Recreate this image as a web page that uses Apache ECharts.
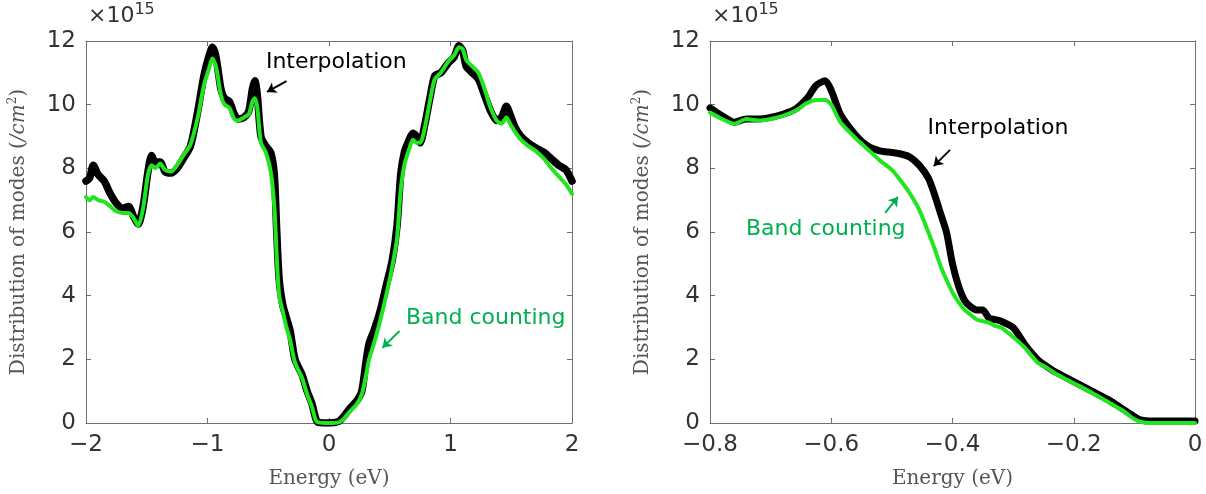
<!DOCTYPE html>
<html>
<head>
<meta charset="utf-8">
<script src="https://cdn.jsdelivr.net/npm/echarts@6/dist/echarts.min.js"></script>
<style>
  html, body { margin: 0; padding: 0; background: #fff; }
  #chart { width: 1206px; height: 494px; }
</style>
</head>
<body>
<div id="chart"></div>
<script>
// left panel: wide energy window
var leftEnergy = [-2.00,-1.97,-1.94,-1.90,-1.85,-1.80,-1.75,-1.70,-1.65,-1.61,-1.57,-1.53,-1.49,-1.46,-1.43,-1.39,-1.35,-1.30,-1.25,-1.20,-1.14,-1.08,-1.03,-0.99,-0.96,-0.93,-0.89,-0.86,-0.82,-0.78,-0.75,-0.70,-0.66,-0.63,-0.61,-0.59,-0.56,-0.52,-0.48,-0.45,-0.43,-0.41,-0.38,-0.35,-0.32,-0.28,-0.22,-0.18,-0.14,-0.11,-0.09,0.00,0.08,0.12,0.17,0.23,0.27,0.30,0.33,0.37,0.42,0.47,0.52,0.56,0.59,0.62,0.66,0.69,0.72,0.75,0.79,0.83,0.87,0.92,0.98,1.03,1.07,1.10,1.13,1.18,1.23,1.28,1.33,1.38,1.42,1.46,1.49,1.53,1.58,1.64,1.70,1.77,1.83,1.89,1.95,2.00];
var leftInterp = [7.6,7.7,8.1,7.8,7.6,7.2,6.9,6.75,6.8,6.5,6.25,6.8,7.9,8.4,8.2,8.2,7.9,7.85,8.0,8.3,8.7,9.8,10.9,11.5,11.8,11.5,10.5,10.2,10.1,9.7,9.55,9.6,9.8,10.5,10.75,10.3,9.0,8.7,8.5,7.8,6.0,4.5,3.7,3.3,2.9,2.0,1.5,1.0,0.6,0.15,0.02,0.0,0.05,0.2,0.45,0.7,1.0,1.8,2.5,2.9,3.5,4.3,5.1,6.2,7.8,8.5,8.9,9.1,9.0,8.8,9.4,10.2,10.9,11.0,11.3,11.5,11.85,11.7,11.2,11.0,10.8,10.3,9.8,9.5,9.6,9.95,9.7,9.3,9.0,8.8,8.65,8.5,8.3,8.1,7.95,7.6];
var leftBand = [7.1,7.0,7.1,7.0,6.95,6.8,6.65,6.6,6.6,6.45,6.2,6.75,7.8,8.1,8.0,8.15,7.95,7.9,8.1,8.4,8.75,9.6,10.6,11.1,11.45,11.2,10.3,10.0,9.9,9.55,9.5,9.6,9.7,10.1,10.2,9.9,8.8,8.5,7.9,6.8,5.2,4.0,3.5,3.0,2.6,1.9,1.4,0.9,0.5,0.1,0.02,0.0,0.02,0.12,0.35,0.6,0.9,1.4,2.0,2.5,3.2,4.0,4.9,5.8,7.3,8.1,8.6,8.9,8.8,8.8,9.3,10.1,10.8,11.0,11.35,11.55,11.8,11.75,11.4,11.2,11.0,10.5,9.9,9.5,9.4,9.6,9.4,9.15,8.9,8.7,8.55,8.3,8.0,7.75,7.5,7.2];

// right panel: zoom on the valence side
var rightEnergy = [-0.80,-0.78,-0.76,-0.74,-0.72,-0.70,-0.68,-0.66,-0.64,-0.625,-0.61,-0.60,-0.585,-0.56,-0.54,-0.52,-0.50,-0.485,-0.47,-0.455,-0.44,-0.43,-0.42,-0.41,-0.40,-0.39,-0.38,-0.37,-0.36,-0.35,-0.34,-0.33,-0.32,-0.30,-0.28,-0.26,-0.25,-0.23,-0.20,-0.17,-0.14,-0.12,-0.10,-0.09,-0.075,-0.05,0];
var rightInterp = [9.9,9.65,9.45,9.55,9.55,9.6,9.7,9.85,10.2,10.6,10.75,10.45,9.7,9.05,8.7,8.55,8.5,8.45,8.35,8.1,7.7,7.2,6.6,6.0,5.0,4.3,3.85,3.65,3.55,3.55,3.3,3.25,3.2,3.0,2.45,2.0,1.85,1.6,1.3,1.0,0.7,0.45,0.2,0.1,0.06,0.06,0.06];
var rightBand = [9.75,9.55,9.4,9.55,9.5,9.55,9.65,9.8,10.05,10.15,10.15,10.0,9.45,8.95,8.6,8.25,7.95,7.6,7.2,6.7,6.0,5.5,4.95,4.5,4.1,3.8,3.55,3.4,3.25,3.2,3.15,3.05,3.0,2.7,2.35,1.9,1.8,1.55,1.25,0.95,0.62,0.4,0.12,0.04,0,0,0];

// annotations, in data units: [textX, textY, arrowFromX, arrowFromY, arrowToX, arrowToY]
var leftInterpNote = [0.06, 11.34, -0.35, 10.74, -0.51, 10.4];
var leftBandNote = [1.29, 3.30, 0.58, 2.89, 0.44, 2.36];
var rightInterpNote = [-0.325, 9.27, -0.404, 8.58, -0.431, 8.07];
var rightBandNote = [-0.609, 6.09, -0.511, 6.60, -0.49, 7.10];

var BLACK = '#000000';
var LIME = '#22e522';
var NOTE_GREEN = '#00b050';
var SANS = '"DejaVu Sans", sans-serif';
var SERIF = '"DejaVu Serif", "Liberation Serif", serif';
var FRAME = '#6f6f6f';

function zip(xs, ys) {
  var out = [];
  for (var i = 0; i < xs.length; i++) out.push([xs[i], ys[i]]);
  return out;
}
function minus(v) {
  return String(v).replace('-', '\u2212');
}

function xAxes(gridIndex, min, max, interval) {
  var common = {
    gridIndex: gridIndex, type: 'value', min: min, max: max, interval: interval,
    splitLine: { show: false },
    axisLine: { show: true, onZero: false, lineStyle: { color: FRAME, width: 1 } },
    axisTick: { show: true, inside: true, length: 5, lineStyle: { color: FRAME } }
  };
  return [
    Object.assign({}, common, {
      position: 'bottom',
      axisLabel: { color: '#333', fontFamily: SANS, fontSize: 23, margin: 11, formatter: minus },
      name: 'Energy (eV)', nameLocation: 'middle', nameGap: 46,
      nameTextStyle: { color: '#555', fontFamily: SERIF, fontSize: 20 }
    }),
    Object.assign({}, common, { position: 'top', axisLabel: { show: false } })
  ];
}
function yAxes(gridIndex) {
  var common = {
    gridIndex: gridIndex, type: 'value', min: 0, max: 12, interval: 2,
    splitLine: { show: false },
    axisLine: { show: true, onZero: false, lineStyle: { color: FRAME, width: 1 } },
    axisTick: { show: true, inside: true, length: 5, lineStyle: { color: FRAME } }
  };
  return [
    Object.assign({}, common, {
      position: 'left',
      axisLabel: { color: '#333', fontFamily: SANS, fontSize: 23, margin: 10 },
      name: 'Distribution of modes ({i|/cm}{s|2}{p|)}', nameLocation: 'middle', nameGap: 56,
      nameTextStyle: {
        color: '#555', fontFamily: SERIF, fontSize: 20,
        rich: {
          i: { fontFamily: SERIF, fontStyle: 'italic', fontSize: 20, color: '#555' },
          s: { fontFamily: SERIF, fontSize: 12, color: '#555', padding: [0, 0, 11, 0] },
          p: { fontFamily: SERIF, fontSize: 20, color: '#555' }
        }
      }
    }),
    Object.assign({}, common, { position: 'right', axisLabel: { show: false } })
  ];
}

function curve(name, xs, ys, axis, color, width) {
  return {
    name: name, type: 'line', xAxisIndex: axis, yAxisIndex: axis,
    data: zip(xs, ys), showSymbol: false, smooth: 0.25,
    lineStyle: { color: color, width: width, cap: 'round', join: 'round' },
    itemStyle: { color: color }, silent: true, animation: false, z: width > 5 ? 2 : 3
  };
}

function note(label, n, axis, textColor, arrowColor) {
  return {
    type: 'line', xAxisIndex: axis, yAxisIndex: axis, data: [], silent: true, animation: false, z: 5,
    markPoint: {
      symbol: 'rect', symbolSize: 1, itemStyle: { color: 'rgba(0,0,0,0)' },
      label: { show: true, position: 'inside', formatter: label, color: textColor, fontFamily: SANS, fontSize: 22 },
      data: [{ coord: [n[0], n[1]] }]
    },
    markLine: {
      symbol: ['none', 'arrow'], symbolSize: 9, silent: true, animation: false,
      label: { show: false },
      lineStyle: { color: arrowColor, width: 2, type: 'solid' },
      data: [[{ coord: [n[2], n[3]] }, { coord: [n[4], n[5]] }]]
    }
  };
}

var chart = echarts.init(document.getElementById('chart'), null, { renderer: 'canvas' });
var lx = xAxes(0, -2, 2, 1), rx = xAxes(1, -0.8, 0, 0.2);
var ly = yAxes(0), ry = yAxes(1);

var expStyle = {
  text: '\u00d710{s|15}', fontFamily: SANS, fontSize: 22, fill: '#333',
  rich: { s: { fontFamily: SANS, fontSize: 16, fill: '#333', padding: [0, 0, 12, 0] } }
};

chart.setOption({
  backgroundColor: '#fff',
  animation: false,
  grid: [
    { left: 86, right: 634, top: 41, bottom: 71 },
    { left: 710, right: 11, top: 41, bottom: 71 }
  ],
  // axis order: 0 left-bottom, 1 right-bottom, 2 left-top, 3 right-top
  xAxis: [lx[0], rx[0], lx[1], rx[1]],
  yAxis: [ly[0], ry[0], ly[1], ry[1]],
  graphic: [
    { type: 'text', left: 88, top: 2, style: expStyle },
    { type: 'text', left: 712, top: 2, style: expStyle }
  ],
  series: [
    curve('Interpolation', leftEnergy, leftInterp, 0, BLACK, 7.5),
    curve('Band counting', leftEnergy, leftBand, 0, LIME, 4),
    curve('Interpolation', rightEnergy, rightInterp, 1, BLACK, 7),
    curve('Band counting', rightEnergy, rightBand, 1, LIME, 4),
    note('Interpolation', leftInterpNote, 0, '#000', '#000'),
    note('Band counting', leftBandNote, 0, NOTE_GREEN, NOTE_GREEN),
    note('Interpolation', rightInterpNote, 1, '#000', '#000'),
    note('Band counting', rightBandNote, 1, NOTE_GREEN, NOTE_GREEN)
  ]
});
</script>
</body>
</html>
